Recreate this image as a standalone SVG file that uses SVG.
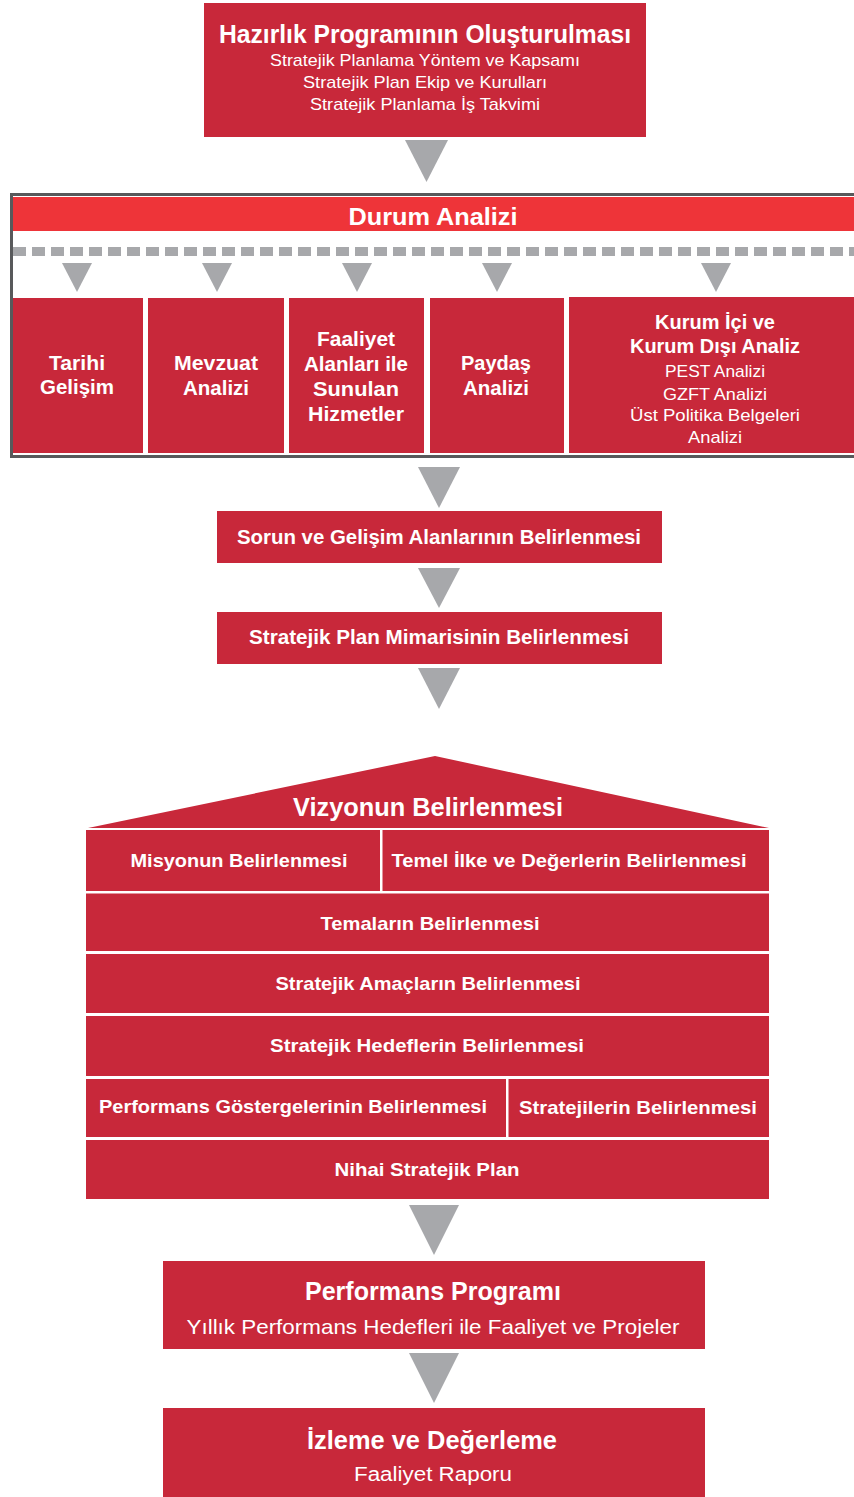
<svg xmlns="http://www.w3.org/2000/svg" width="854" height="1497" viewBox="0 0 854 1497">
<style>
.box{fill:#C8283A}
.hdr{fill:#EE3439}
.arr{fill:#A7A8AB}
text{font-family:"Liberation Sans Narrow","Liberation Sans","DejaVu Sans",sans-serif;fill:#ffffff;text-anchor:middle}
.b{font-weight:bold}
.r{font-weight:normal}
</style>
<rect width="854" height="1497" fill="#ffffff"/>

<g id="hazirlik">
<rect class="box" x="204" y="3" width="442" height="134"/>
<text class="b" x="425" y="43" font-size="25" textLength="412" lengthAdjust="spacingAndGlyphs">Hazırlık Programının Oluşturulması</text>
<text class="r" x="425" y="66" font-size="17" textLength="310" lengthAdjust="spacingAndGlyphs">Stratejik Planlama Yöntem ve Kapsamı</text>
<text class="r" x="425" y="88" font-size="17" textLength="244" lengthAdjust="spacingAndGlyphs">Stratejik Plan Ekip ve Kurulları</text>
<text class="r" x="425" y="110" font-size="17" textLength="230" lengthAdjust="spacingAndGlyphs">Stratejik Planlama İş Takvimi</text>
</g>

<g id="durum-analizi">
<rect x="11.5" y="194.5" width="860" height="262" fill="#ffffff" stroke="#58595B" stroke-width="3"/>
<rect class="hdr" x="13" y="197" width="841" height="34"/>
<text class="b" x="433" y="225" font-size="23" textLength="169" lengthAdjust="spacingAndGlyphs">Durum Analizi</text>
<line x1="13" y1="251.5" x2="854" y2="251.5" stroke="#A7A8AB" stroke-width="9" stroke-dasharray="13 6"/>
</g>

<g id="tarihi">
<rect class="box" x="13" y="298" width="130" height="155"/>
<text class="b" x="77" y="370" font-size="20" textLength="56" lengthAdjust="spacingAndGlyphs">Tarihi</text>
<text class="b" x="77" y="394" font-size="20" textLength="74" lengthAdjust="spacingAndGlyphs">Gelişim</text>
</g>
<g id="mevzuat">
<rect class="box" x="148" y="298" width="136" height="155"/>
<text class="b" x="216" y="370" font-size="20" textLength="84" lengthAdjust="spacingAndGlyphs">Mevzuat</text>
<text class="b" x="216" y="395" font-size="20" textLength="66" lengthAdjust="spacingAndGlyphs">Analizi</text>
</g>
<g id="faaliyet">
<rect class="box" x="289" y="298" width="135" height="155"/>
<text class="b" x="356" y="346" font-size="20" textLength="78" lengthAdjust="spacingAndGlyphs">Faaliyet</text>
<text class="b" x="356" y="371" font-size="20" textLength="104" lengthAdjust="spacingAndGlyphs">Alanları ile</text>
<text class="b" x="356" y="396" font-size="20" textLength="86" lengthAdjust="spacingAndGlyphs">Sunulan</text>
<text class="b" x="356" y="421" font-size="20" textLength="96" lengthAdjust="spacingAndGlyphs">Hizmetler</text>
</g>
<g id="paydas">
<rect class="box" x="430" y="298" width="134" height="155"/>
<text class="b" x="496" y="370" font-size="20" textLength="70" lengthAdjust="spacingAndGlyphs">Paydaş</text>
<text class="b" x="496" y="395" font-size="20" textLength="66" lengthAdjust="spacingAndGlyphs">Analizi</text>
</g>
<g id="kurum">
<rect class="box" x="569" y="297" width="285" height="156"/>
<text class="b" x="715" y="329" font-size="20" textLength="120" lengthAdjust="spacingAndGlyphs">Kurum İçi ve</text>
<text class="b" x="715" y="353" font-size="20" textLength="170" lengthAdjust="spacingAndGlyphs">Kurum Dışı Analiz</text>
<text class="r" x="715" y="377" font-size="17" textLength="100" lengthAdjust="spacingAndGlyphs">PEST Analizi</text>
<text class="r" x="715" y="400" font-size="17" textLength="104" lengthAdjust="spacingAndGlyphs">GZFT Analizi</text>
<text class="r" x="715" y="421" font-size="17" textLength="170" lengthAdjust="spacingAndGlyphs">Üst Politika Belgeleri</text>
<text class="r" x="715" y="443" font-size="17" textLength="54" lengthAdjust="spacingAndGlyphs">Analizi</text>
</g>

<g id="sorun">
<rect class="box" x="217" y="511" width="445" height="52"/>
<text class="b" x="439" y="544" font-size="20" textLength="404" lengthAdjust="spacingAndGlyphs">Sorun ve Gelişim Alanlarının Belirlenmesi</text>
</g>
<g id="mimari">
<rect class="box" x="217" y="612" width="445" height="52"/>
<text class="b" x="439" y="644" font-size="20" textLength="380" lengthAdjust="spacingAndGlyphs">Stratejik Plan Mimarisinin Belirlenmesi</text>
</g>

<g id="vizyon">
<polygon class="box" points="88,828 435,756 769,828"/>
<text class="b" x="428" y="816" font-size="25" textLength="270" lengthAdjust="spacingAndGlyphs">Vizyonun Belirlenmesi</text>
</g>
<g id="misyon">
<rect class="box" x="86" y="830" width="294" height="61"/>
<text class="b" x="239" y="867" font-size="19" textLength="217" lengthAdjust="spacingAndGlyphs">Misyonun Belirlenmesi</text>
</g>
<g id="temel-ilke">
<rect class="box" x="382.5" y="830" width="386.5" height="61"/>
<text class="b" x="569" y="867" font-size="19" textLength="355" lengthAdjust="spacingAndGlyphs">Temel İlke ve Değerlerin Belirlenmesi</text>
</g>
<g id="temalar">
<rect class="box" x="86" y="893.5" width="683" height="57.5"/>
<text class="b" x="430" y="930" font-size="19" textLength="219" lengthAdjust="spacingAndGlyphs">Temaların Belirlenmesi</text>
</g>
<g id="amaclar">
<rect class="box" x="86" y="954" width="683" height="59"/>
<text class="b" x="428" y="990" font-size="19" textLength="305" lengthAdjust="spacingAndGlyphs">Stratejik Amaçların Belirlenmesi</text>
</g>
<g id="hedefler">
<rect class="box" x="86" y="1016" width="683" height="60"/>
<text class="b" x="427" y="1052" font-size="19" textLength="314" lengthAdjust="spacingAndGlyphs">Stratejik Hedeflerin Belirlenmesi</text>
</g>
<g id="gostergeler">
<rect class="box" x="86" y="1079" width="420" height="58"/>
<text class="b" x="293" y="1113" font-size="19" textLength="388" lengthAdjust="spacingAndGlyphs">Performans Göstergelerinin Belirlenmesi</text>
</g>
<g id="stratejiler">
<rect class="box" x="508.5" y="1079" width="260.5" height="58"/>
<text class="b" x="638" y="1114" font-size="19" textLength="238" lengthAdjust="spacingAndGlyphs">Stratejilerin Belirlenmesi</text>
</g>
<g id="nihai">
<rect class="box" x="86" y="1140" width="683" height="59"/>
<text class="b" x="427" y="1176" font-size="19" textLength="185" lengthAdjust="spacingAndGlyphs">Nihai Stratejik Plan</text>
</g>

<g id="performans-programi">
<rect class="box" x="163" y="1261" width="542" height="88"/>
<text class="b" x="433" y="1300" font-size="25" textLength="256" lengthAdjust="spacingAndGlyphs">Performans Programı</text>
<text class="r" x="433" y="1334" font-size="21" textLength="493" lengthAdjust="spacingAndGlyphs">Yıllık Performans Hedefleri ile Faaliyet ve Projeler</text>
</g>
<g id="izleme">
<rect class="box" x="163" y="1408" width="542" height="89"/>
<text class="b" x="432" y="1449" font-size="25" textLength="250" lengthAdjust="spacingAndGlyphs">İzleme ve Değerleme</text>
<text class="r" x="433" y="1481" font-size="20" textLength="158" lengthAdjust="spacingAndGlyphs">Faaliyet Raporu</text>
</g>

<g id="connectors">
<polygon class="arr" points="405,140 448,140 426.5,182"/>
<polygon class="arr" points="62,263 92,263 77,292"/>
<polygon class="arr" points="202,263 232,263 217,292"/>
<polygon class="arr" points="342,263 372,263 357,292"/>
<polygon class="arr" points="482,263 512,263 497,292"/>
<polygon class="arr" points="701,263 731,263 716,292"/>
<polygon class="arr" points="418,467 460,467 439,508"/>
<polygon class="arr" points="418,568 460,568 439,608"/>
<polygon class="arr" points="418,668 460,668 439,709"/>
<polygon class="arr" points="409,1205 459,1205 434,1255"/>
<polygon class="arr" points="409,1353 459,1353 434,1403"/>
</g>
</svg>
